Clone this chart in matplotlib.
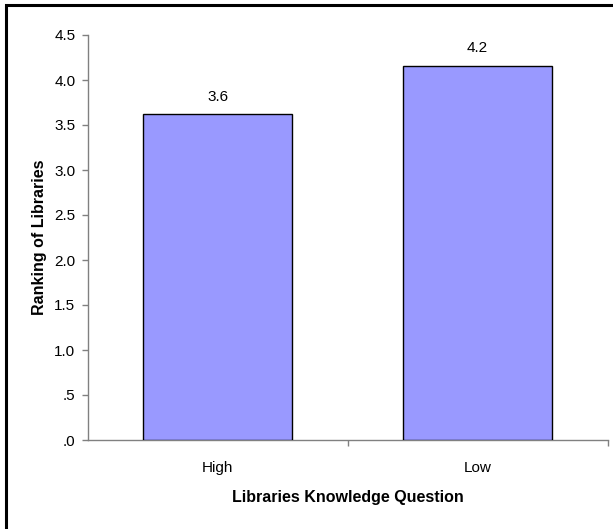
import matplotlib
matplotlib.use("Agg")
import matplotlib.pyplot as plt
from matplotlib.patches import Rectangle
from matplotlib.ticker import FuncFormatter, FixedLocator

plt.rcParams['font.family'] = ['Liberation Sans', 'DejaVu Sans']

categories = ["High", "Low"]
rankings = [3.62, 4.16]
y_ticks = [0.0, 0.5, 1.0, 1.5, 2.0, 2.5, 3.0, 3.5, 4.0, 4.5]

W, H = 613, 529
fig = plt.figure(figsize=(W / 100, H / 100), dpi=100)
ax = fig.add_axes([88 / W, 1 - 440 / H, (607.5 - 88) / W, (440 - 35) / H])

x = list(range(len(categories)))
bars = ax.bar(x, rankings, width=0.573, color="#9999FF", edgecolor="black",
              linewidth=1.0, zorder=3)

for xi, v in zip(x, rankings):
    ax.annotate(f"{v:.1f}", (xi, v), xytext=(0, 7.5), textcoords="offset points",
                ha="center", va="bottom", fontsize=11)

ax.set_xlim(-0.5, len(categories) - 0.5)
ax.set_ylim(0, 4.5)
ax.set_yticks(y_ticks)
ax.yaxis.set_major_formatter(FuncFormatter(lambda v, p: f"{v:.1f}".lstrip("0")))

# category labels centred, ticks on category boundaries
ax.xaxis.set_major_locator(FixedLocator([0.5, 1.5]))
ax.xaxis.set_major_formatter(FuncFormatter(lambda v, p: ""))
ax.xaxis.set_minor_locator(FixedLocator(x))
ax.set_xticklabels(categories, minor=True)
ax.tick_params(axis="x", which="minor", length=0, pad=15, labelsize=11)
ax.tick_params(axis="x", which="major", length=4, width=1, color="#808080")
ax.tick_params(axis="y", length=4, width=1, color="#808080", labelsize=11, pad=5)

for side in ("top", "right"):
    ax.spines[side].set_visible(False)
for side in ("left", "bottom"):
    ax.spines[side].set_color("#808080")
    ax.spines[side].set_linewidth(1.0)

ax.set_xlabel("Libraries Knowledge Question", fontsize=11.5, fontweight="bold", labelpad=11)
ax.set_ylabel("Ranking of Libraries", fontsize=11.5, fontweight="bold", labelpad=5.5)

# outer frame of the chart area
fig.patches.append(Rectangle((6 / W, -0.05), 1.2, (H - 5) / H + 0.05,
                             transform=fig.transFigure, fill=False,
                             edgecolor="black", linewidth=2.2))

fig.savefig("out.png", dpi=100)
